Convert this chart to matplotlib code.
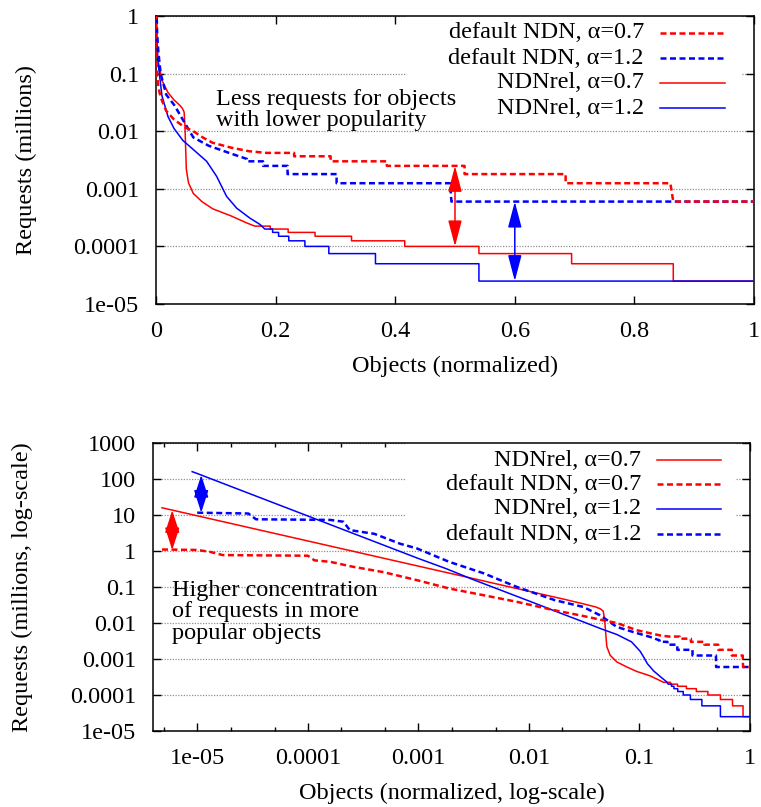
import matplotlib
matplotlib.use("Agg")
import matplotlib.pyplot as plt
from matplotlib.ticker import FixedLocator, FixedFormatter, LogLocator, NullFormatter, NullLocator
from matplotlib.patches import Rectangle

plt.rcParams['font.family'] = ['Liberation Serif', 'DejaVu Serif']

# ---------------- data ----------------
# NDNrel, alpha=0.7
rel07_x = [4.8e-6, 1e-5, 1e-4, 1e-3, 3e-3, 0.01, 0.02, 0.03, 0.04, 0.044, 0.047, 0.0485, 0.049,
           0.0507, 0.0543, 0.0624, 0.0768, 0.0947, 0.125, 0.15, 0.165, 0.191, 0.191, 0.221, 0.221,
           0.266, 0.266, 0.327, 0.327, 0.416, 0.416, 0.54, 0.54, 0.695, 0.695, 0.865, 0.865, 1.0]
rel07_y = [15.9, 9.5, 1.9, 0.38, 0.177, 0.076, 0.047, 0.035, 0.028, 0.025, 0.0215, 0.012, 0.0078,
           0.0022, 0.00127, 0.00083, 0.0006, 0.00045, 0.00034, 0.00026, 0.000225, 0.000225, 0.0002, 0.0002, 0.000175,
           0.000175, 0.00015, 0.00015, 0.000125, 0.000125, 0.0001, 0.0001, 7.5e-5, 7.5e-5, 5e-5, 5e-5, 2.5e-5, 2.5e-5]

# default NDN, alpha=0.7
def07_x = [4.8e-6, 1.0e-5, 1.3e-5, 1.7e-5, 1.0e-4, 1.15e-4, 1.6e-4, 2.5e-4, 4.8e-4, 9.7e-4, 1.9e-3,
           3.9e-3, 7.7e-3, 0.017, 0.03, 0.047, 0.0624, 0.079, 0.0947, 0.125, 0.155, 0.185, 0.231, 0.231,
           0.292, 0.292, 0.386, 0.386, 0.516, 0.516, 0.685, 0.685, 0.86, 0.862, 0.865, 1.0]
def07_y = [1.10, 1.07, 0.95, 0.77, 0.74, 0.55, 0.50, 0.37, 0.26, 0.155, 0.091,
           0.059, 0.039, 0.0226, 0.016, 0.0119, 0.0100, 0.0077, 0.0063, 0.0052, 0.0045, 0.0042, 0.0042, 0.00367,
           0.00367, 0.003, 0.003, 0.0025, 0.0025, 0.0018, 0.0018, 0.00125, 0.00125, 0.00095, 0.0006, 0.0006]

# NDNrel, alpha=1.2
rel12_x = [9.0e-6, 1e-5, 1e-4, 1e-3, 1.8e-3, 3e-3, 0.01, 0.02, 0.03, 0.045, 0.0624, 0.0847, 0.1013,
           0.109, 0.118, 0.135, 0.157, 0.174, 0.182, 0.195, 0.195, 0.205, 0.205, 0.222, 0.222, 0.249,
           0.249, 0.289, 0.289, 0.367, 0.367, 0.54, 0.54, 1.0]
rel12_y = [160, 142, 9.4, 0.62, 0.32, 0.169, 0.041, 0.018, 0.0112, 0.0069, 0.0048, 0.003, 0.00165,
           0.00114, 0.00074, 0.00046, 0.00031, 0.00024, 0.0002, 0.0002, 0.000175, 0.000175, 0.00015, 0.00015, 0.000125, 0.000125,
           0.0001, 0.0001, 7.5e-5, 7.5e-5, 5e-5, 5e-5, 2.5e-5, 2.5e-5]

# default NDN, alpha=1.2
def12_x = [1.0e-5, 2.9e-5, 3.4e-5, 1.6e-4, 2.1e-4, 2.4e-4, 4.0e-4, 6.8e-4, 9.7e-4, 1.9e-3, 3.9e-3,
           7.8e-3, 0.0172, 0.031, 0.044, 0.0624, 0.088, 0.125, 0.152, 0.152, 0.179, 0.179, 0.22, 0.22,
           0.302, 0.302, 0.492, 0.494, 1.0]
def12_y = [11.6, 11.0, 7.6, 7.3, 6.5, 3.8, 3.0, 1.6, 1.18, 0.5, 0.24,
           0.1, 0.043, 0.028, 0.0164, 0.0078, 0.0056, 0.0041, 0.0033, 0.003, 0.003, 0.0025, 0.0025, 0.0018,
           0.0018, 0.00125, 0.00125, 0.0006, 0.0006]

top_xticks = [0, 0.2, 0.4, 0.6, 0.8, 1.0]
top_xlabels = ["0", "0.2", "0.4", "0.6", "0.8", "1"]
top_yticks = [1, 0.1, 0.01, 0.001, 0.0001, 1e-5]
top_ylabels = ["1", "0.1", "0.01", "0.001", "0.0001", "1e-05"]
bot_xticks = [1e-5, 1e-4, 1e-3, 1e-2, 0.1, 1]
bot_xlabels = ["1e-05", "0.0001", "0.001", "0.01", "0.1", "1"]
bot_yticks = [1000, 100, 10, 1, 0.1, 0.01, 0.001, 0.0001, 1e-5]
bot_ylabels = ["1000", "100", "10", "1", "0.1", "0.01", "0.001", "0.0001", "1e-05"]

RED = "#ff0000"
BLUE = "#0000ff"
FS = 17.5
series = {
    "rel07": dict(x=rel07_x, y=rel07_y, color=RED, dashed=False, label="NDNrel, α=0.7"),
    "def07": dict(x=def07_x, y=def07_y, color=RED, dashed=True, label="default NDN, α=0.7"),
    "rel12": dict(x=rel12_x, y=rel12_y, color=BLUE, dashed=False, label="NDNrel, α=1.2"),
    "def12": dict(x=def12_x, y=def12_y, color=BLUE, dashed=True, label="default NDN, α=1.2"),
}


def style(s):
    if s["dashed"]:
        return dict(color=s["color"], lw=1.8, linestyle=(0, (2.4, 1.4)), dash_capstyle='butt')
    return dict(color=s["color"], lw=1.1, linestyle='-')


def common(ax):
    ax.set_yscale('log')
    ax.set_axisbelow(True)
    ax.yaxis.grid(True, which='major', color='#909090', lw=0.9, linestyle=(0, (1, 1.2)))
    ax.tick_params(which='both', direction='in', top=True, right=True, labelsize=FS, width=1.0)
    ax.tick_params(which='major', length=5.5, pad=12)
    ax.tick_params(which='minor', length=3)
    for sp in ax.spines.values():
        sp.set_linewidth(1.1)


def key(ax, order, rows_y, text_x, line_x0, line_x1, box):
    ax.add_patch(Rectangle((box[0], box[1]), box[2], box[3], transform=ax.transAxes,
                           facecolor='white', edgecolor='none', zorder=1))
    for name, yy in zip(order, rows_y):
        s = series[name]
        ax.text(text_x, yy, s["label"], transform=ax.transAxes, ha='right', va='center',
                fontsize=FS, zorder=5)
        ax.plot([line_x0, line_x1], [yy, yy], transform=ax.transAxes, clip_on=False,
                zorder=5, **style(s))


def darrow(ax, x, y0, y1, color, hl, hw):
    ax.annotate('', xy=(x, y1), xytext=(x, y0),
                arrowprops=dict(arrowstyle=f'<|-|>,head_length={hl},head_width={hw}',
                                color=color, lw=1.1, shrinkA=0, shrinkB=0, mutation_scale=10),
                zorder=6)


fig = plt.figure(figsize=(7.61, 8.07), dpi=100)

# ---------------- top panel ----------------
ax1 = fig.add_axes([156 / 761, 1 - 304 / 807, 598 / 761, 288 / 807])
common(ax1)
for name in ["rel07", "rel12", "def12", "def07"]:
    s = series[name]
    ax1.plot(s["x"], s["y"], zorder=3, **style(s))
ax1.set_xlim(0, 1)
ax1.set_ylim(1e-5, 1)
ax1.xaxis.set_major_locator(FixedLocator(top_xticks))
ax1.xaxis.set_major_formatter(FixedFormatter(top_xlabels))
ax1.xaxis.set_minor_locator(NullLocator())
ax1.yaxis.set_major_locator(FixedLocator(top_yticks))
ax1.yaxis.set_major_formatter(FixedFormatter(top_ylabels))
ax1.yaxis.set_minor_locator(LogLocator(base=10, subs=(2, 5)))
ax1.yaxis.set_minor_formatter(NullFormatter())
ax1.set_xlabel("Objects (normalized)", fontsize=FS)
ax1.set_ylabel("Requests (millions)", fontsize=FS)
ax1.xaxis.set_label_coords(0.5, -0.215)
ax1.xaxis.label.set_va('center')
ax1.yaxis.set_label_coords(-0.217, 0.5)
ax1.yaxis.label.set_va('center')
key(ax1, ["def07", "def12", "rel07", "rel12"],
    [(304 - p) / 288 for p in (33, 58, 83, 108)],
    (644 - 156) / 598, (660 - 156) / 598, (725 - 156) / 598,
    ((407 - 156) / 598, (304 - 121) / 288, (741 - 407) / 598, 1.0))
ax1.text(0.1, (304 - 110) / 288, "Less requests for objects\nwith lower popularity",
         transform=ax1.transAxes, ha='left', va='center', fontsize=FS, linespacing=0.98, zorder=5)
darrow(ax1, 0.5, 0.0025, 0.0001, RED, 1.6, 0.42)
darrow(ax1, 0.6, 0.0006, 2.5e-5, BLUE, 1.6, 0.42)

# ---------------- bottom panel ----------------
ax2 = fig.add_axes([153 / 761, 1 - 731 / 807, 597 / 761, 288 / 807])
common(ax2)
ax2.set_xscale('log')
for name in ["rel07", "rel12", "def12", "def07"]:
    s = series[name]
    ax2.plot(s["x"], s["y"], zorder=3, **style(s))
ax2.set_xlim(3.98e-6, 1)
ax2.set_ylim(1e-5, 1000)
ax2.xaxis.set_major_locator(FixedLocator(bot_xticks))
ax2.xaxis.set_major_formatter(FixedFormatter(bot_xlabels))
ax2.xaxis.set_minor_locator(LogLocator(base=10, subs=(2, 5)))
ax2.xaxis.set_minor_formatter(NullFormatter())
ax2.yaxis.set_major_locator(FixedLocator(bot_yticks))
ax2.yaxis.set_major_formatter(FixedFormatter(bot_ylabels))
ax2.yaxis.set_minor_locator(LogLocator(base=10, subs=(2, 5)))
ax2.yaxis.set_minor_formatter(NullFormatter())
ax2.set_xlabel("Objects (normalized, log-scale)", fontsize=FS)
ax2.set_ylabel("Requests (millions, log-scale)", fontsize=FS)
ax2.xaxis.set_label_coords(0.5, -0.215)
ax2.xaxis.label.set_va('center')
ax2.yaxis.set_label_coords(-0.219, 0.5)
ax2.yaxis.label.set_va('center')
key(ax2, ["rel07", "def07", "rel12", "def12"],
    [(731 - p) / 288 for p in (460, 484, 509, 534)],
    (641 - 153) / 597, (657 - 153) / 597, (721 - 153) / 597,
    ((405 - 153) / 597, (731 - 546) / 288, (735 - 405) / 597, 1.0))
ax2.text(0.031, (731 - 612) / 288, "Higher concentration\nof requests in more\npopular objects",
         transform=ax2.transAxes, ha='left', va='center', fontsize=FS, linespacing=1.03, zorder=5)
darrow(ax2, 5.94e-6, 1.06, 13.5, RED, 1.4, 0.45)
darrow(ax2, 1.087e-5, 11.6, 129, BLUE, 1.4, 0.45)

fig.savefig("out.png", dpi=100)
